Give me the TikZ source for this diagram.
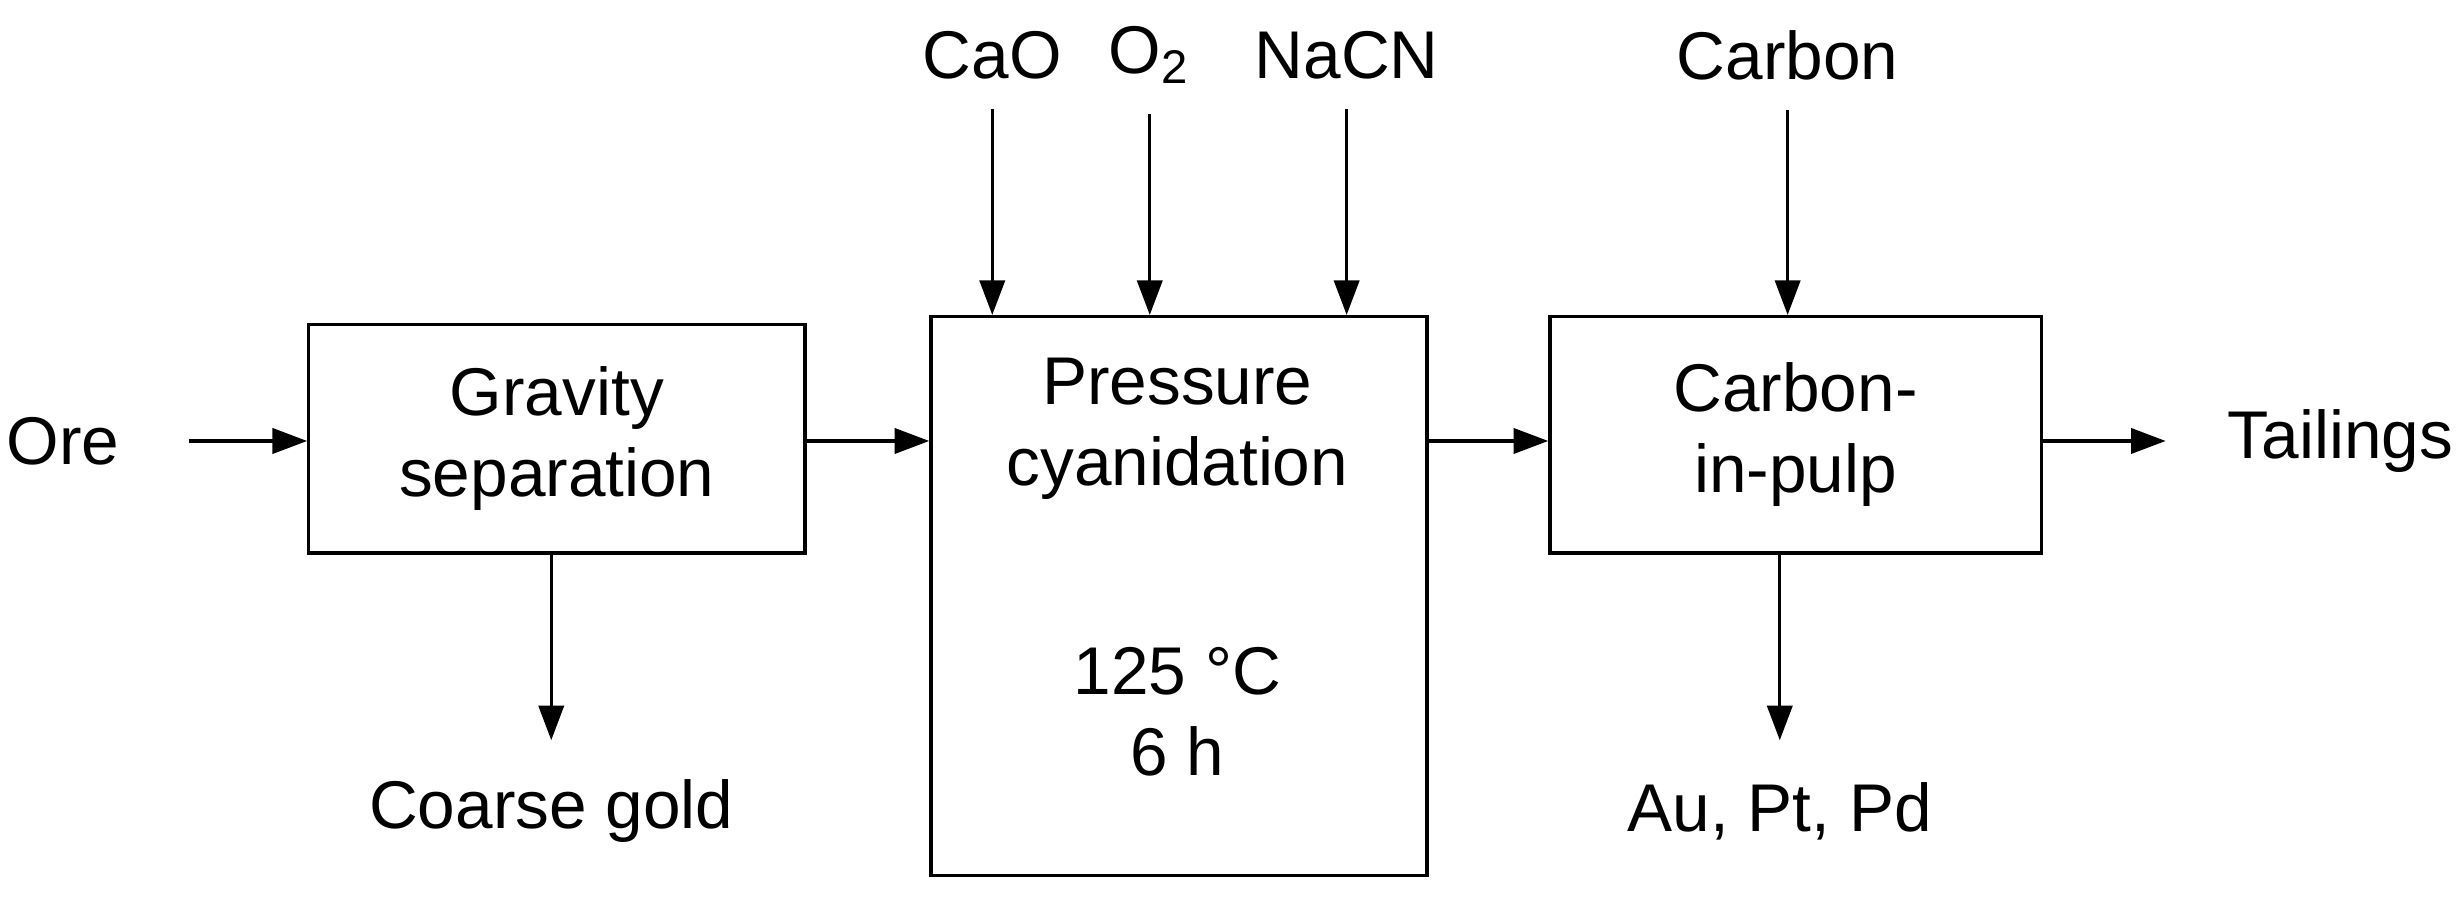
\documentclass[tikz,border=0pt]{standalone}
\usepackage{fontspec}
\setmainfont{Liberation Sans}
\usetikzlibrary{positioning, arrows.meta}

\begin{document}
\begin{tikzpicture}[
      font=\fontsize{12.2}{14.6}\selectfont,
      box/.style={draw, line width=0.6pt, align=center, anchor=north west, inner sep=0pt},
      lbl/.style={align=center, inner sep=1pt},
      arrow/.style={-{Triangle[length=0.22cm, width=0.16cm]}, line width=0.6pt}
  ]
  \useasboundingbox (0,0) rectangle (15.6,-5.7);
  % Boxes ------------------------------------------------
  \node[box, minimum width=3.15cm, minimum height=1.45cm] (gravity) at (1.95,-2.05) {Gravity\\ separation};
  \node[box, minimum width=3.15cm, minimum height=3.55cm] (pressure) at (5.9,-2.0) {};
  \node[lbl] (ptext) at (7.475,-2.72) {Pressure\\ cyanidation};
  \node[lbl] (pcond) at (7.475,-4.52) {125 °C\\ 6 h};
  \node[box, minimum width=3.12cm, minimum height=1.5cm] (cip) at (9.83,-2.0) {Carbon-\\ in-pulp};

  % Labels ------------------------------------------------
  \node[lbl] (ore) at (0.4,-2.8) {Ore};
  \node[lbl] (tailings) at (14.86,-2.8) {Tailings};
  \node[lbl] (coarse) at (3.5,-5.15) {Coarse gold};
  \node[lbl] (metals) at (11.3,-5.15) {Au, Pt, Pd};
  \node[lbl] (cao) at (6.3,-0.35) {CaO};
  \node[lbl] (oxy) at (7.3,-0.35) {O\textsubscript{2}};
  \node[lbl] (nacn) at (8.55,-0.35) {NaCN};
  \node[lbl] (carbon) at (11.35,-0.35) {Carbon};

  % Arrows ------------------------------------------------
  \draw[arrow] (1.2,-2.8) -- (gravity.west |- 0,-2.8);
  \draw[arrow] (gravity.east |- 0,-2.8) -- (pressure.west |- 0,-2.8);
  \draw[arrow] (pressure.east |- 0,-2.8) -- (cip.west |- 0,-2.8);
  \draw[arrow] (cip.east |- 0,-2.8) -- (13.75,-2.8);
  \draw[arrow] (gravity.south -| coarse) -- (3.5,-4.7);
  \draw[arrow] (cip.south -| 11.3,0) -- (11.3,-4.7);
  \foreach \src in {cao, oxy, nacn, carbon}
      \draw[arrow] (\src.south) ++(0,-0.15) -- (\src |- pressure.north);
\end{tikzpicture}
\end{document}
